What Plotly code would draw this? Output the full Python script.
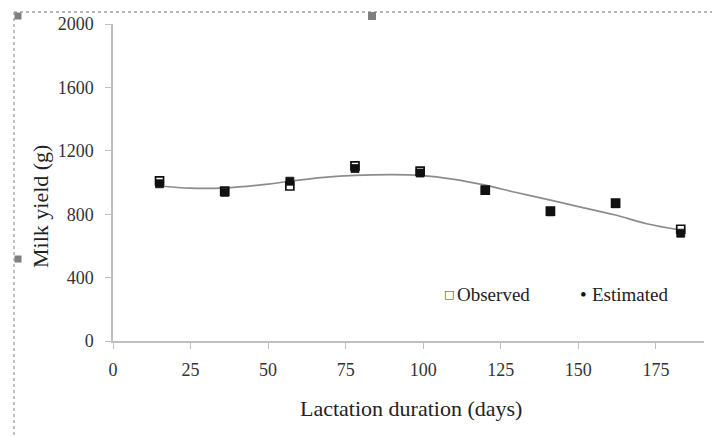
import plotly.graph_objects as go

# Data
days = [15, 36, 57, 78, 99, 120, 141, 162, 183]
observed = [1010, 945, 978, 1105, 1072, 952, 820, 870, 705]
estimated = [992, 938, 1008, 1088, 1060, 950, 815, 866, 680]

curve_days = [15, 25, 36, 50, 57, 68, 78, 90, 99, 110, 120, 130, 141, 150, 162, 172, 183]
curve_vals = [978, 964, 966, 990, 1008, 1032, 1045, 1050, 1045, 1020, 983, 937, 889, 848, 795, 740, 700]

x_ticks = [0, 25, 50, 75, 100, 125, 150, 175]
y_ticks = [0, 400, 800, 1200, 1600, 2000]

FONT = "Liberation Serif, Times New Roman, serif"
AXIS_C = "#bfbfbf"

W, H = 720, 436
OFF = 8  # page body offset seen in the screenshot
# screen-pixel geometry of the plot area in the reference
SL, ST, SR, SB = 113, 24, 704, 341
L, T = SL - OFF, ST - OFF
PW, PH = SR - SL, SB - ST
R, B = W - L - PW, H - T - PH


def px(x):
    return (x - SL) / PW


def py(y):
    return (SB - y) / PH


fig = go.Figure()

fig.add_trace(go.Scatter(x=curve_days, y=curve_vals, mode="lines",
                         line=dict(color="#8c8c8c", width=1.7, shape="spline", smoothing=1.0),
                         showlegend=False, hoverinfo="skip"))
fig.add_trace(go.Scatter(x=days, y=observed, mode="markers", name="Observed",
                         marker=dict(symbol="square", size=8, color="white",
                                     line=dict(color="#111111", width=1.7)),
                         showlegend=False))
fig.add_trace(go.Scatter(x=days, y=estimated, mode="markers", name="Estimated",
                         marker=dict(symbol="square", size=8, color="#111111",
                                     line=dict(color="#111111", width=0.8)),
                         showlegend=False))

shapes = []
dot = dict(color="#a0a0a0", width=1.3, dash="3px,3px")
shapes.append(dict(type="line", xref="paper", yref="paper",
                   x0=px(14), x1=px(730), y0=py(12), y1=py(12), line=dot))
shapes.append(dict(type="line", xref="paper", yref="paper",
                   x0=px(14), x1=px(14), y0=py(12), y1=py(450), line=dot))
for cx, cy, s in [(18, 16, 7), (372, 16, 8), (18, 259, 7)]:
    shapes.append(dict(type="rect", xref="paper", yref="paper",
                       x0=px(cx - s / 2), x1=px(cx + s / 2),
                       y0=py(cy + s / 2), y1=py(cy - s / 2),
                       fillcolor="#7f7f7f", line=dict(width=0)))

annotations = [
    dict(text="Milk yield (g)", xref="paper", yref="paper", x=px(40), y=py(207),
         textangle=-90, showarrow=False, font=dict(family=FONT, size=22, color="#222"),
         xanchor="center", yanchor="middle"),
    dict(text="Lactation duration (days)", xref="paper", yref="paper", x=px(411), y=py(408),
         showarrow=False, font=dict(family=FONT, size=22, color="#222"),
         xanchor="center", yanchor="middle"),
    # legend
    dict(text="□", xref="paper", yref="paper", x=px(449), y=py(294),
         showarrow=False, font=dict(family="DejaVu Sans", size=11, color="#444"),
         xanchor="center", yanchor="middle"),
    dict(text="Observed", xref="paper", yref="paper", x=px(455), y=py(294),
         showarrow=False, font=dict(family=FONT, size=19, color="#222"),
         xanchor="left", yanchor="middle"),
    dict(text="•", xref="paper", yref="paper", x=px(583), y=py(294),
         showarrow=False, font=dict(family=FONT, size=19, color="#111"),
         xanchor="center", yanchor="middle"),
    dict(text="Estimated", xref="paper", yref="paper", x=px(590), y=py(294),
         showarrow=False, font=dict(family=FONT, size=19, color="#222"),
         xanchor="left", yanchor="middle"),
]

fig.update_layout(
    width=W, height=H,
    margin=dict(l=L, r=R, t=T, b=B, autoexpand=False),
    paper_bgcolor="white", plot_bgcolor="white",
    font=dict(family=FONT, color="#333"),
    shapes=shapes, annotations=annotations,
    showlegend=False,
    xaxis=dict(range=[0, 190.5], tickvals=x_ticks, ticktext=[str(v) for v in x_ticks],
               showgrid=False, zeroline=False, showline=True, linecolor=AXIS_C, linewidth=1.5,
               ticks="outside", ticklen=6, tickcolor=AXIS_C, tickwidth=1.3,
               tickfont=dict(family=FONT, size=18, color="#333"), ticklabelstandoff=6),
    yaxis=dict(range=[0, 2000], tickvals=y_ticks, ticktext=[str(v) for v in y_ticks],
               showgrid=False, zeroline=False, showline=True, linecolor=AXIS_C, linewidth=1.5,
               ticks="outside", ticklen=6, tickcolor=AXIS_C, tickwidth=1.3,
               tickfont=dict(family=FONT, size=18, color="#333"), ticklabelstandoff=8),
)

fig.write_html("out.html")
